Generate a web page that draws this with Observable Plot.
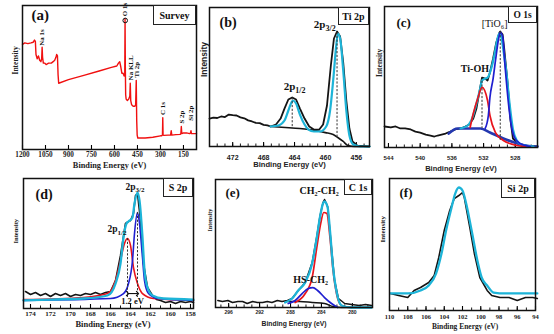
<!DOCTYPE html>
<html><head><meta charset="utf-8">
<script src="https://cdn.jsdelivr.net/npm/d3@7"></script>
<script src="https://cdn.jsdelivr.net/npm/@observablehq/plot@0.6"></script>
<style>
body{margin:0;background:#fff;}
#fig{position:relative;width:554px;height:334px;overflow:hidden;background:#fff;}
.panel{position:absolute;}
.box{position:absolute;border:1px solid #222;background:#fff;font-family:"Liberation Serif","Times New Roman",serif;font-weight:bold;display:flex;align-items:center;justify-content:center;color:#111;box-sizing:border-box;white-space:nowrap;}
</style></head><body><div id="fig"></div>
<script>
// ---------------- (a) Survey ----------------
const aEnergy = [1200,1185,1165,1145,1130,1122,1116,1112,1104,1096,1088,1080,1075,1072,1069,1064,1056,1046,1030,1012,1000,990,982,977,972,968,964,900,800,700,620,585,574,566,560,552,544,537,533,531,529,527,524,516,507,500,497,494,488,478,468,462,458,455,452,448,430,400,350,300,292,287,285,283,278,250,234,230,226,200,172,167,164,161,150,130,110,104,101,98,80,65];
const aIntensity = [73,74,73.5,74,74.5,76,75,66,63,65,62,61,63,71,64,60,60,59,60,60,61,62,64,66,65,52,46,48.5,51.5,54.5,57,58,60,61,58,53,53,51,52,91,55,38,35,34,35,37,46,34,31,30,30,31,48,20,10,8,8,8,8.5,9.5,9.5,10,22,10,9.8,10,10,13,10,10.3,10.5,11,16,11,11.5,11.5,11,11.5,13,11,11,11];
const aPeakNames = ["Na 1s","O 1s","Na KLL","Ti 2p","C 1s","S 2p","Si 2p"];
const aPeakEnergy = [1072,530,497,458,285,164,102];
const aTicks = [1200,1050,900,750,600,450,300,150];

// ---------------- (b) Ti 2p ----------------
const bEnergy = [475,474.5,474,473.5,473,472.5,472,471.5,471,470.5,470,469.5,469,468.5,468,467.5,467.1,466.4,465.8,465.3,464.8,464.3,463.8,463.3,462.7,462.1,461.5,460.8,460.3,459.8,459.3,458.9,458.5,458.1,457.7,457.3,456.9,456.5,455.9,454.3];
const bCounts = [20.1,20.8,20.5,21.6,21.2,23,22.6,22.3,21,20.3,18.8,18,17,16.8,15.6,15.2,14.4,15.8,20.1,27.3,33.8,35.3,33.8,27.3,20.1,14.4,12.2,12.2,15.8,29.5,58.3,77.7,82.7,79.1,60.4,33.1,12.9,3.6,0.7,0];
const bFitEnergy = [467.1,466.1,465.3,464.8,464.4,464.2,463.8,463.3,462.7,462.2,461.5,460.7,459.9,459.4,459.0,458.6,458.4,458.1,457.7,457.3,456.9,456.4,455.5,454.3];
const bFit = [14.4,15.1,18.7,25.9,31.7,33.1,30.9,23,15.8,12.2,10.8,10.8,14.4,25.9,47.5,72.7,81.3,77.7,54.7,25.9,7.9,1.4,0,0];
const bBgEnergy = [467.1,465.2,463.3,461.3,460,459,458.4,457.7,457.1,456.2,454.3];
const bBg = [14.4,13.7,12.9,11.5,10,8.6,6.5,3.6,0.7,0,0];
const bPeakEnergy = [464.3,458.5];
const bPeakTop = [35,82];
const bPeakBase = [12.9,6.5];
const bTicks = [472,468,464,460,456];

// ---------------- (c) O 1s ----------------
const cEnergy = [544.5,543.7,543.1,542.5,541.9,541.2,540.6,540,539.3,538.7,538.2,537.8,537.3,536.8,536.2,535.6,534.9,534.3,533.8,533.3,532.9,532.5,532.2,531.8,531.5,531.2,530.8,530.4,530,529.9,529.6,529.4,529,528.6,528.3,527.6,526.7,525.2];
const cCounts = [14.9,14.2,14.9,13.5,13.5,12.8,11.3,10.6,9.2,8.5,7.8,8.5,9.2,9.9,11.3,12.8,13.5,14.9,16.3,20.6,27.7,40.4,49.6,48.9,47.5,53.2,63.1,74.5,81.6,82.3,80.1,70.2,47.5,19.1,6.4,2.8,1.4,0.7];
const cFitEnergy = [534.9,534,533.4,532.8,532.4,532.2,531.8,531.5,531,530.6,530.3,530,529.8,529.5,529.1,528.7,528.3,527.8,527.2,525.7];
const cFit = [13.5,15.6,21.3,33.3,42.6,47.5,48.9,49.6,56.7,66.7,75.9,80.9,79.4,68.8,52,30,13,5,2,0.7];
const cBgEnergy = [536.4,535.3,533.7,532.4,531.2,529.5,527.7,525.7,525.2];
const cBg = [9.9,13.5,13.5,13.5,10.6,6.4,2.8,0.7,0.7];
const cTiO6Energy = [531.8,531.4,531.2,530.8,530.5,530.1,529.9,529.6,529.3,528.9,528.5,528.1,527.4,526.1];
const cTiO6 = [13.5,22.7,35.5,48.9,61.7,77.3,81.6,78.7,58.2,33.3,15.6,7.1,2.8,0.7];
const cTiOHEnergy = [533.7,533.3,532.7,532.2,531.5,531.2,530.5,529.5,528.3,526.7];
const cTiOH = [14.2,24.1,35.5,42.6,33.3,22.7,10.6,5,2.1,0.7];
const cPeakEnergy = [532.2,529.9];
const cPeakTop = [47,82];
const cPeakBase = [13.5,5];
const cTicks = [544,540,536,532,528];

// ---------------- (d) S 2p ----------------
const dEnergy = [174.5,174,173.5,173,172.5,172,171.5,171,170.5,170,169.5,169,168.5,168,167.5,167,166.5,166,165.5,165,164.5,164.2,164,163.7,163.5,163.3,163,162.7,162.3,161.8,161.4,161,160.5,160,159.5,159,158.5,158,157.7];
const dCounts = [13.1,10.8,12.3,10,11.5,9.2,11.5,10,11.5,9.2,10.8,10,11.5,10.8,12.3,10.8,12.3,13.1,21.5,40.8,65.4,66.9,67.7,73.1,86.9,88.5,67.7,34.6,16.2,10,6.9,6.2,4.6,5.4,3.8,5.4,4.6,5.4,4.6];
const dFitEnergy = [174.7,172,168.7,166.3,165.5,165,164.7,164.4,164.2,163.8,163.6,163.3,163.1,162.8,162.6,162.3,161.8,160.7,157.7];
const dFit = [6.2,6.9,7.7,10,19.2,34.6,54.6,65.4,66.9,70,80.8,89.2,83.1,54.6,29.2,16.2,10,7.7,6.9];
const dS12Energy = [174.7,168.7,166.3,165.5,165,164.6,164.3,164,163.7,163.3,162.8,161.7,157.7];
const dS12 = [6.9,8.5,11.5,21.5,36.9,50,53.8,48.5,31.5,19.2,11.5,7.7,6.2];
const dS32Energy = [174.7,166,164.7,164.2,163.8,163.6,163.3,163.1,162.8,162.6,162.2,161.3,157.7];
const dS32 = [6.2,7.7,11.5,19.2,36.9,57.7,73.8,65.4,39.2,21.5,11.5,7.7,6.2];
const dPeakEnergy = [164.3,163.3];
const dPeakTop = [53.8,73.8];
const dPeakBase = [8.5,8.5];
const dTicks = [174,172,170,168,166,164,162,160,158];

// ---------------- (e) C 1s ----------------
const eEnergy = [297.4,296.8,296.1,295.5,294.8,294.2,293.6,292.9,292.3,291.6,291,290.4,289.7,289.1,288.4,287.8,287,286.1,285.2,284.6,284.2,283.8,283.6,283.2,282.7,282.3,281.8,281,280.1,279.1,278.3,277.5];
const eCounts = [5.5,4.7,5.5,3.9,4.7,4.7,3.1,4.7,3.9,3.9,4.7,3.9,5.5,4.7,5.5,7,13.3,19.5,35.2,55.5,71.1,82,84.4,78.9,46.9,21.1,7,3.1,2.3,1.6,2.3,1.6];
const eFitEnergy = [288.7,287.8,287,286.1,285.2,284.6,284.2,283.8,283.6,283.2,282.9,282.5,282,281.4,280.1,277.5];
const eFit = [3.9,7,13.3,19.5,34.4,54.7,70.3,81.3,82.8,78.1,60.2,31.3,10.9,1.6,0,0];
const eCCEnergy = [287.4,286.1,285.2,284.6,284.1,283.7,283.3,282.9,282.5,282,281.4,280.1];
const eCC = [3.9,10.9,23.4,46.9,65.6,74.2,73.4,54.7,28.9,9.4,1.6,0];
const eHSEnergy = [288.3,287.4,286.5,285.7,285.1,284.5,283.6,282.7,281.9];
const eHS = [3.1,5.5,10.9,14.8,15.6,13.3,7.8,3.1,0];
const eBgEnergy = [288.4,286.8,285.2,283.6,282.5,281.4,277.5];
const eBg = [4.7,4.7,3.9,3.1,0.8,0,0];
const eTicks = [296,292,288,284,280];

// ---------------- (f) Si 2p ----------------
const fEnergy = [109.9,109,108,107.3,106.6,105.7,105.1,104.6,104,103.4,102.9,102.4,102,101.8,101.2,100.7,100.1,99.3,98.8,97.9,96.9,96,95.1,94.3,93.8];
const fCounts = [12.9,11.4,9.8,15.2,17.4,21.2,26.5,40.2,60.6,75.8,84.8,87.1,89.4,85.6,62.9,43.2,25,15.2,11.4,9.8,9.8,7.6,9.8,9.8,9.1];
const fFitEnergy = [109.9,108,106.6,105.7,104.9,104.3,103.8,103.2,102.8,102.4,102,101.6,101,100.3,99.9,99.3,98.6,97.3,93.8];
const fFit = [12.9,12.9,15.2,18.9,28,43.2,60.6,78,88.6,93.2,90.9,81.1,60.6,35.6,25,18.9,13.6,12.9,12.9];
const fTicks = [110,108,106,104,102,100,98,96,94];

// ---------------- helpers ----------------
const SERIF = '"Liberation Serif","Times New Roman",serif';
const SANS = '"Liberation Sans",Arial,sans-serif';
const RED = "#e8141c", BLUE = "#1f1fd0", CYAN = "#1db4d8", BLACK = "#141414";
const fig = document.getElementById("fig");
const pts = (xs, ys) => xs.map((x, i) => ({x, y: ys[i]}));
const rules = (xs, t, b) => xs.map((x, i) => ({x, t: t[i], b: b[i]}));
const minorTicks = (a, b) => d3.range(Math.ceil(Math.min(a, b)), Math.floor(Math.max(a, b)) + 1);

function line(xs, ys, stroke, w, curve = "linear") {
  return Plot.line(pts(xs, ys), {x: "x", y: "y", stroke, strokeWidth: w, curve, strokeLinejoin: "round"});
}
function dashed(xs, t, b) {
  return Plot.ruleX(rules(xs, t, b), {x: "x", y1: "t", y2: "b", stroke: "#333", strokeWidth: 1, strokeDasharray: "2.2,1.6"});
}
function xAxis(major, minor, o) {
  const m = [];
  if (minor) m.push(Plot.axisX(minor, {tickSize: -2.5, fill: "none", label: null, strokeWidth: 0.9}));
  m.push(Plot.axisX(major, {tickSize: -4, tickPadding: o.pad, fontSize: o.fs, fontFamily: o.font, fontWeight: "bold", tickFormat: d => String(d), label: null, strokeWidth: 1.1, fill: "#222"}));
  return m;
}
function titles(o) {
  return [
    Plot.text(["Binding Energy (eV)"], {frameAnchor: "bottom", text: d => d, dy: o.xdy, dx: o.xdx || 0, lineAnchor: "middle", fontSize: o.xfs, fontFamily: o.xfont, fontWeight: "bold", fill: "#222"}),
    Plot.text(["Intensity"], {frameAnchor: "left", text: d => d, rotate: -90, dx: o.ydx, dy: o.ydy || 0, lineAnchor: "middle", fontSize: o.yfs, fontFamily: o.yfont, fontWeight: "bold", fill: "#222"}),
    Plot.text([o.letter], {frameAnchor: "top-left", text: d => d, dx: o.ldx, dy: o.ldy, textAnchor: "start", lineAnchor: "top", fontSize: o.lfs, fontFamily: SERIF, fontWeight: "bold", fill: "#111"})
  ];
}
function subLabel(x, y, main, sub, fs, sfs, sdy) {
  return [
    Plot.text([{x, y}], {x: "x", y: "y", text: () => main, textAnchor: "end", lineAnchor: "bottom", fontSize: fs, fontFamily: SERIF, fontWeight: "bold", fill: "#111"}),
    Plot.text([{x, y}], {x: "x", y: "y", text: () => sub, textAnchor: "start", lineAnchor: "bottom", fontSize: sfs, dy: sdy, fontFamily: SERIF, fontWeight: "bold", fill: "#111"})
  ];
}
function label(x, y, t, fs, weight = "bold") {
  return Plot.text([{x, y}], {x: "x", y: "y", text: () => t, textAnchor: "middle", lineAnchor: "bottom", fontSize: fs, fontFamily: SERIF, fontWeight: weight, fill: "#111"});
}
function addPanel({frame: [L, T, R, B], m: [mt, mr, mb, ml], domain, marks}) {
  const svg = Plot.plot({
    width: R - L + ml + mr, height: B - T + mt + mb,
    marginTop: mt, marginRight: mr, marginBottom: mb, marginLeft: ml,
    x: {domain}, y: {domain: [0, 100], axis: null},
    style: {background: "transparent", overflow: "visible"},
    marks: [...marks, Plot.frame({stroke: "#111", strokeWidth: 1.5})]
  });
  const div = document.createElement("div");
  div.className = "panel";
  div.style.left = (L - ml) + "px";
  div.style.top = (T - mt) + "px";
  div.append(svg);
  fig.append(div);
}
function box(text, L, T, R, B, fs) {
  const d = document.createElement("div");
  d.className = "box";
  d.textContent = text;
  Object.assign(d.style, {left: L + "px", top: T + "px", width: (R - L) + "px", height: (B - T) + "px", fontSize: fs + "px"});
  fig.append(d);
}

// ---------------- (a) ----------------
addPanel({
  frame: [22, 5, 196, 149], m: [5, 4, 24, 20], domain: [1200, 65],
  marks: [
    ...xAxis(aTicks, null, {pad: 6.3, fs: 7.2, font: SERIF}),
    line(aEnergy, aIntensity, "#f01010", 1.4),
    Plot.dot([{x: 530, y: 89.6}], {x: "x", y: "y", r: 2.3, stroke: "#111", strokeWidth: 1, fill: "none"}),
    Plot.text(aPeakNames.map((n, i) => ({n, x: aPeakEnergy[i], y: [72, 92.5, 48, 50, 24, 18, 20][i]})),
      {x: "x", y: "y", text: "n", rotate: -90, textAnchor: "start", lineAnchor: "middle", fontSize: 7, fontFamily: SERIF, fontWeight: "bold", fill: "#111"}),
    ...titles({xdy: 16, xfs: 8.3, xfont: SERIF, ydx: -6.5, ydy: -3, yfs: 7.5, yfont: SERIF, letter: "(a)", ldx: 9, ldy: 4, lfs: 15})
  ]
});
box("Survey", 153, 5, 196, 25, 10);

// ---------------- (b) ----------------
addPanel({
  frame: [209, 7, 369, 146], m: [7, 2, 24, 14], domain: [475, 454.3],
  marks: [
    ...xAxis(bTicks, minorTicks(475, 454.3), {pad: 12.8, fs: 7, font: SANS}),
    line(bEnergy, bCounts, BLACK, 1.8),
    line(bBgEnergy, bBg, BLACK, 1.6, "monotone-x"),
    line(bFitEnergy, bFit, CYAN, 2.2, "monotone-x"),
    dashed(bPeakEnergy, bPeakTop, bPeakBase),
    ...subLabel(460.0, 85.6, "2p", "3/2", 11, 8, 3),
    ...subLabel(463.9, 40.3, "2p", "1/2", 11, 8, 3),
    ...titles({xdy: 18, xfs: 7.6, xfont: SANS, ydx: -5.5, yfs: 8.5, yfont: SANS, letter: "(b)", ldx: 10, ldy: 10, lfs: 14})
  ]
});
box("Ti 2p", 338, 7, 369, 25, 10);

// ---------------- (c) ----------------
addPanel({
  frame: [384, 6, 537, 147], m: [6, 4, 26, 14], domain: [544.5, 525.2],
  marks: [
    ...xAxis(cTicks, minorTicks(544.5, 525.2), {pad: 12.2, fs: 6, font: SANS}),
    line(cEnergy, cCounts, BLACK, 1.8),
    line(cBgEnergy, cBg, "#2438b0", 2.6, "monotone-x"),
    line(cFitEnergy, cFit, CYAN, 2.2, "monotone-x"),
    line(cTiOHEnergy, cTiOH, RED, 1.7, "monotone-x"),
    line(cTiO6Energy, cTiO6, BLUE, 1.7, "monotone-x"),
    dashed(cPeakEnergy, cPeakTop, cPeakBase),
    label(530.6, 85.8, "[TiO₆]", 10, "normal"),
    label(533.1, 53.2, "Ti-OH", 10),
    ...titles({xdy: 21, xfs: 7.5, xfont: SANS, ydx: -5, yfs: 7.5, yfont: SERIF, letter: "(c)", ldx: 12, ldy: 11, lfs: 13})
  ]
});
box("O 1s", 508, 6, 537, 23, 9.5);

// ---------------- (d) ----------------
addPanel({
  frame: [23, 178, 193, 308], m: [8, 2, 24, 20], domain: [174.7, 157.7],
  marks: [
    ...xAxis(dTicks, minorTicks(174.7, 157.7), {pad: 6.5, fs: 7, font: SERIF}),
    line(dEnergy, dCounts, BLACK, 1.6),
    line(dS12Energy, dS12, RED, 1.6, "monotone-x"),
    line(dS32Energy, dS32, BLUE, 1.6, "monotone-x"),
    line(dFitEnergy, dFit, CYAN, 2.3, "monotone-x"),
    dashed(dPeakEnergy, dPeakTop, dPeakBase),
    Plot.link([{x1: dPeakEnergy[0], x2: dPeakEnergy[1], y: 11.5}], {x1: "x1", x2: "x2", y1: "y", y2: "y", stroke: "#111", strokeWidth: 1.1, markerStart: "arrow", markerEnd: "arrow"}),
    label(163.8, 3.1, "1.2 eV", 8.5),
    ...subLabel(163.5, 91.5, "2p", "3/2", 9.5, 7, 2.5),
    ...subLabel(165.3, 58.5, "2p", "1/2", 9.5, 7, 2.5),
    ...titles({xdy: 16, xdx: 4.5, xfs: 8.5, xfont: SERIF, ydx: -7.5, yfs: 6.5, yfont: SERIF, letter: "(d)", ldx: 12, ldy: 11, lfs: 14})
  ]
});
box("S 2p", 163, 178, 193, 197, 10);

// ---------------- (e) ----------------
addPanel({
  frame: [215, 179, 372, 307], m: [9, 2, 25, 14], domain: [297.7, 277.4],
  marks: [
    ...xAxis(eTicks, minorTicks(297.7, 277.4), {pad: 6.6, fs: 5, font: SANS}),
    line(eEnergy, eCounts, BLACK, 1.5),
    line(eBgEnergy, eBg, BLACK, 1.5, "monotone-x"),
    line(eCCEnergy, eCC, RED, 1.7, "monotone-x"),
    line(eHSEnergy, eHS, BLUE, 1.7, "monotone-x"),
    line(eFitEnergy, eFit, CYAN, 2.3, "monotone-x"),
    label(284.3, 88.3, "CH₂-CH₂", 10),
    label(285.4, 19.5, "HS-CH₂", 10),
    ...titles({xdy: 16, xfs: 6.8, xfont: SANS, ydx: -5, ydy: -12, yfs: 6, yfont: SERIF, letter: "(e)", ldx: 10, ldy: 8, lfs: 13})
  ]
});
box("C 1s", 344, 179, 372, 195, 10);

// ---------------- (f) ----------------
addPanel({
  frame: [389, 178, 535, 310], m: [8, 4, 22, 16], domain: [110, 94],
  marks: [
    ...xAxis(fTicks, minorTicks(110, 94), {pad: 7.4, fs: 6.5, font: SERIF}),
    line(fEnergy, fCounts, BLACK, 1.6),
    line(fFitEnergy, fFit, CYAN, 2.3, "monotone-x"),
    ...titles({xdy: 16, xdx: 2.5, xfs: 7.5, xfont: SERIF, ydx: -6.5, ydy: -2, yfs: 7, yfont: SERIF, letter: "(f)", ldx: 10, ldy: 9, lfs: 13})
  ]
});
box("Si 2p", 501, 178, 535, 198, 10);
</script></body></html>
